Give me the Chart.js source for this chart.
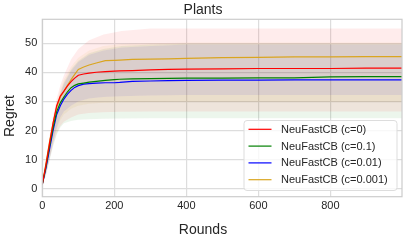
<!DOCTYPE html>
<html>
<head>
<meta charset="utf-8">
<style>
  html, body { margin: 0; padding: 0; background: #fff; }
  #wrap { width: 407px; height: 242px; }
</style>
<script src="https://cdn.jsdelivr.net/npm/chart.js@4"></script>
</head>
<body>
<div id="wrap"><canvas id="regret"></canvas></div>
<script>
var rounds = [0, 10, 20, 30, 40, 50, 60, 70, 80, 90, 100, 115, 130, 150, 175, 200, 215, 250, 300, 350, 400, 500, 600, 700, 800, 900, 999];

var meanC0    = [1.5, 8, 15.5, 22.5, 28.5, 31.8, 33.5, 35.3, 36.8, 38, 39, 39.4, 39.7, 40, 40.2, 40.4, 40.5, 40.6, 40.8, 41, 41.1, 41.2, 41.3, 41.3, 41.3, 41.4, 41.4];
var meanC01   = [1.5, 7.5, 14.5, 21, 26.5, 29.5, 31.5, 33.3, 34.7, 35.5, 36, 36.3, 36.6, 36.9, 37.2, 37.5, 37.6, 37.7, 37.8, 37.9, 38, 38, 38.1, 38.1, 38.4, 38.5, 38.5];
var meanC001  = [1.5, 7, 13.5, 20, 25.5, 28.5, 30.8, 32.5, 33.8, 34.8, 35.4, 35.9, 36.1, 36.3, 36.4, 36.4, 36.5, 36.9, 37, 37.1, 37.2, 37.3, 37.3, 37.4, 37.4, 37.4, 37.4];
var meanC0001 = [1.5, 8.5, 16, 22.5, 28, 31.5, 33.5, 35.5, 37.5, 39.3, 41, 41.8, 42.5, 43.2, 44, 44.1, 44.2, 44.4, 44.5, 44.6, 44.8, 45, 45.1, 45.3, 45.3, 45.4, 45.4];

var bandRounds = [0, 10, 20, 30, 40, 50, 60, 80, 100, 130, 170, 220, 300, 400, 600, 999];

var upC0    = [2, 10, 18, 25, 31, 35.5, 39, 44.5, 48, 51, 53, 54.2, 55, 55, 55, 55];
var loC0    = [1, 5, 10, 15, 19, 21.5, 23, 24.5, 25.5, 26, 26.3, 26.4, 26.5, 26.5, 26.5, 26.5];
var upC01   = [2, 9, 16.5, 23.5, 29, 33, 36.5, 41, 44, 46.5, 48, 49, 49.5, 49.8, 49.8, 49.8];
var loC01   = [1, 4.5, 9.5, 14.5, 18.5, 21, 22.5, 23.3, 23.7, 23.9, 24, 24.1, 24.2, 24.2, 24.2, 24.2];
var upC001  = [2, 8.5, 16, 23, 28.5, 32.5, 36, 40.5, 43.5, 46, 47.5, 48.5, 49, 49.5, 49.5, 49.5];
var loC001  = [1, 5, 10, 16, 21, 24.5, 26.5, 28.5, 30, 31, 31.5, 31.8, 32, 32.2, 32.2, 32.2];
var upC0001 = [2, 9.5, 17, 24, 30, 34, 37.5, 42, 45, 47.5, 49, 49.7, 50, 50.2, 50.2, 50.2];
var loC0001 = [1, 5.5, 10.5, 16, 20.5, 23.5, 25.5, 27.5, 28.5, 29.2, 29.5, 29.7, 29.8, 29.9, 29.9, 29.9];

var labels = ["NeuFastCB (c=0)", "NeuFastCB (c=0.1)", "NeuFastCB (c=0.01)", "NeuFastCB (c=0.001)"];
var colors = ["#ff0000", "#008000", "#0000ff", "#daa520"];
var fills  = ["rgba(255,0,0,0.075)", "rgba(0,128,0,0.075)", "rgba(0,0,255,0.075)", "rgba(218,165,32,0.075)"];

var means = [meanC0, meanC01, meanC001, meanC0001];
var uppers = [upC0, upC01, upC001, upC0001];
var lowers = [loC0, loC01, loC001, loC0001];

function pts(xs, ys) {
    return xs.map(function (x, i) { return {x: x, y: ys[i]}; });
}

var datasets = [];
// bands first (upper fills down to the lower that follows it)
for (var i = 0; i < 4; i++) {
    datasets.push({
        data: pts(bandRounds, uppers[i]), band: true, order: 10,
        borderWidth: 0, borderColor: "rgba(0,0,0,0)", backgroundColor: fills[i],
        pointRadius: 0, fill: "+1"
    });
    datasets.push({
        data: pts(bandRounds, lowers[i]), band: true, order: 10,
        borderWidth: 0, borderColor: "rgba(0,0,0,0)", backgroundColor: "rgba(0,0,0,0)",
        pointRadius: 0, fill: false
    });
}
for (var j = 0; j < 4; j++) {
    datasets.push({
        label: labels[j], data: pts(rounds, means[j]), order: 0,
        borderColor: colors[j], borderWidth: 1.2, pointRadius: 0, fill: false
    });
}

var textColor = "#262626";
var gridColor = "#dddddd";
var fontFamily = "'Liberation Sans', Arial, sans-serif";

// axes frame, titles, legend box inside the plot
var framePlugin = {
    id: "frameAndLegend",
    afterDraw: function (chart) {
        var ctx = chart.ctx, a = chart.chartArea;
        ctx.save();
        ctx.strokeStyle = "#cccccc";
        ctx.lineWidth = 1.2;
        ctx.strokeRect(a.left, a.top, a.right - a.left, a.bottom - a.top);

        // title and axis labels
        ctx.fillStyle = textColor;
        ctx.font = "14px " + fontFamily;
        ctx.textAlign = "center";
        ctx.textBaseline = "middle";
        ctx.fillText("Plants", 203, 10);
        ctx.fillText("Rounds", 203, 230);
        ctx.save();
        ctx.translate(10, 116);
        ctx.rotate(-Math.PI / 2);
        ctx.fillText("Regret", 0, 0);
        ctx.restore();

        // legend
        var items = chart.data.datasets.filter(function (d) { return !d.band; });
        var bx = 244, by = 120.5, bw = 153, bh = 70, r = 3;
        ctx.beginPath();
        ctx.moveTo(bx + r, by);
        ctx.arcTo(bx + bw, by, bx + bw, by + bh, r);
        ctx.arcTo(bx + bw, by + bh, bx, by + bh, r);
        ctx.arcTo(bx, by + bh, bx, by, r);
        ctx.arcTo(bx, by, bx + bw, by, r);
        ctx.closePath();
        ctx.fillStyle = "rgba(255,255,255,0.8)";
        ctx.fill();
        ctx.strokeStyle = "#dddddd";
        ctx.lineWidth = 1;
        ctx.stroke();

        ctx.font = "11px " + fontFamily;
        ctx.textBaseline = "middle";
        ctx.textAlign = "left";
        items.forEach(function (d, k) {
            var y = 129.3 + k * 16.8;
            ctx.strokeStyle = d.borderColor;
            ctx.lineWidth = 1.2;
            ctx.beginPath();
            ctx.moveTo(248.5, y);
            ctx.lineTo(271.5, y);
            ctx.stroke();
            ctx.fillStyle = textColor;
            ctx.fillText(d.label, 281, y + 0.5);
        });
        ctx.restore();
    }
};

var ctx1 = document.getElementById("regret").getContext("2d");
var regretChart = new Chart(ctx1, {
    type: "line",
    data: {datasets: datasets},
    options: {
        responsive: true,
        maintainAspectRatio: false,
        animation: false,
        layout: {padding: {left: 0, right: 5, top: 19.3, bottom: 0}},
        elements: {line: {tension: 0}},
        plugins: {
            legend: {display: false},
            tooltip: {enabled: false},
            title: {display: false}
        },
        scales: {
            x: {
                type: "linear", min: 0, max: 999,
                afterBuildTicks: function (s) {
                    s.ticks = [0, 200, 400, 600, 800].map(function (v) { return {value: v}; });
                },
                afterFit: function (s) { s.height = 45.3; },
                grid: {color: gridColor, lineWidth: 1.2, drawTicks: false},
                border: {display: false},
                ticks: {
                    color: textColor, padding: 3,
                    font: {family: fontFamily, size: 11}
                }
            },
            y: {
                min: -2.75, max: 58.2,
                afterBuildTicks: function (s) {
                    s.ticks = [0, 10, 20, 30, 40, 50].map(function (v) { return {value: v}; });
                },
                afterFit: function (s) { s.width = 42.3; },
                grid: {color: gridColor, lineWidth: 1.2, drawTicks: false},
                border: {display: false},
                ticks: {
                    color: textColor, padding: 5,
                    font: {family: fontFamily, size: 11}
                }
            }
        }
    },
    plugins: [framePlugin]
});
</script>
</body>
</html>
